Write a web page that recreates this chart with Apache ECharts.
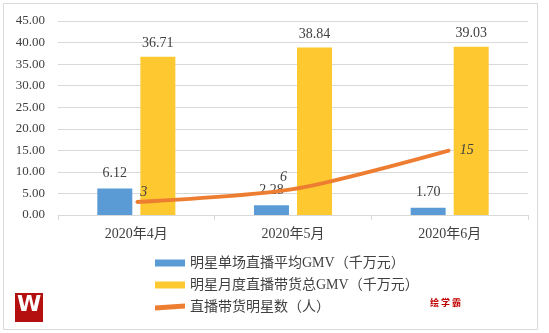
<!DOCTYPE html>
<html><head><meta charset="utf-8">
<script src="https://cdn.jsdelivr.net/npm/echarts@6/dist/echarts.min.js"></script>
<style>html,body{margin:0;padding:0;background:#fff}#c{width:549px;height:333px}</style>
</head><body><div id="c"></div>
<script>
const categories = ['2020年4月', '2020年5月', '2020年6月'];
const avgGMV = [6.12, 2.28, 1.70];
const totalGMV = [36.71, 38.84, 39.03];
const starCount = [3, 6, 15];
const seriesNames = ['明星单场直播平均GMV（千万元）', '明星月度直播带货总GMV（千万元）', '直播带货明星数（人）'];

const serif = '"Liberation Serif","Times New Roman","Noto Sans CJK SC",serif';
const chart = echarts.init(document.getElementById('c'), null, {renderer: 'canvas'});
const lineLabelPos = [
  {position: 'right', offset: [-2, -10]},
  {position: 'left', offset: [0, -12]},
  {position: 'right', offset: [4, 0]}
];
chart.setOption({
  animation: false,
  graphic: [
    {type: 'rect', shape: {x: 3.5, y: 3.5, width: 534, height: 326}, style: {fill: 'none', stroke: '#d9d9d9', lineWidth: 1}, z: -1},
    {type: 'rect', shape: {x: 15, y: 293, width: 28, height: 29}, style: {fill: '#b3100f'}},
    {type: 'text', left: 17, top: 294, style: {text: 'W', fill: '#fff', font: 'bold 22px "DejaVu Sans"'}},
    {type: 'text', left: 430, top: 298, style: {text: '绘 学 霸', fill: '#c00000', font: 'bold 9px "Noto Sans CJK SC"'}}
  ],
  grid: {left: 58, right: 21, top: 21, bottom: 118, containLabel: false},
  legend: {
    orient: 'vertical', left: 150, top: 251, itemGap: 8, itemWidth: 30, itemHeight: 7,
    textStyle: {fontFamily: serif, fontSize: 14, color: '#404040'},
    data: [
      {name: seriesNames[0], icon: 'rect'},
      {name: seriesNames[1], icon: 'rect'},
      {name: seriesNames[2], icon: 'path://M0,2 L30,0 L30,5 L0,7 Z', itemStyle: {color: '#ed7d31', opacity: 1}}
    ]
  },
  xAxis: {
    type: 'category', data: categories,
    axisLine: {lineStyle: {color: '#d9d9d9'}},
    axisTick: {show: true, length: 5, lineStyle: {color: '#d9d9d9'}},
    axisLabel: {fontFamily: serif, fontSize: 14, color: '#404040', margin: 12}
  },
  yAxis: {
    type: 'value', min: 0, max: 45, interval: 5,
    axisLabel: {fontFamily: serif, fontSize: 13, color: '#404040', margin: 13, formatter: v => v.toFixed(2)},
    splitLine: {lineStyle: {color: '#d9d9d9'}},
    axisLine: {show: false}, axisTick: {show: false}
  },
  series: [
    {
      name: seriesNames[0], type: 'bar', data: avgGMV, barWidth: 35, barGap: '23%',
      itemStyle: {color: '#5b9bd5'},
      label: {show: true, position: 'top', distance: 8, fontFamily: serif, fontSize: 14, color: '#404040', formatter: p => p.value.toFixed(2)}
    },
    {
      name: seriesNames[1], type: 'bar', data: totalGMV, barWidth: 35,
      itemStyle: {color: '#fdc830'},
      label: {show: true, position: 'top', distance: 6, fontFamily: serif, fontSize: 14, color: '#404040', formatter: p => p.value.toFixed(2)}
    },
    {
      name: seriesNames[2], type: 'line', smooth: 0.25, symbol: 'circle', symbolSize: 2, showSymbol: true, z: 5,
      data: starCount.map((v, i) => ({value: v, label: lineLabelPos[i]})),
      lineStyle: {color: '#ed7d31', width: 4},
      itemStyle: {color: '#ed7d31'},
      label: {show: true, fontFamily: serif, fontStyle: 'italic', fontSize: 14, color: '#404040'}
    }
  ]
});
</script></body></html>
